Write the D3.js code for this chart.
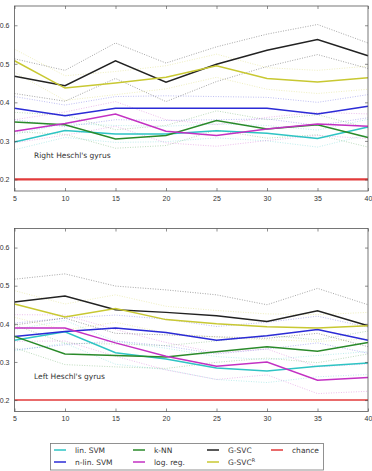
<!DOCTYPE html>
<html>
<head>
<meta charset="utf-8">
<script src="https://cdn.jsdelivr.net/npm/d3@7"></script>
<style>
  body { margin: 0; background: #fff; }
  svg { display: block; font-family: "DejaVu Sans", sans-serif; }
</style>
</head>
<body>
<svg id="chart" width="372" height="471"></svg>
<script>
// x positions (number of features)
const xValues = [5, 10, 15, 20, 25, 30, 35, 40];
const xTicks = [5, 10, 15, 20, 25, 30, 35, 40];
const yTicks = [0.2, 0.3, 0.4, 0.5, 0.6];

// series names, legend order
const seriesNames = ["lin. SVM", "n-lin. SVM", "k-NN", "log. reg.", "G-SVC", "G-SVC^R", "chance"];

// Right Heschl's gyrus: mean accuracy
const rightLinSVM  = [0.297, 0.327, 0.318, 0.318, 0.326, 0.320, 0.306, 0.336];
const rightNlinSVM = [0.385, 0.365, 0.385, 0.385, 0.385, 0.385, 0.370, 0.390];
const rightKNN     = [0.349, 0.342, 0.305, 0.314, 0.353, 0.331, 0.342, 0.309];
const rightLogReg  = [0.325, 0.345, 0.370, 0.325, 0.314, 0.331, 0.344, 0.338];
const rightGSVC    = [0.468, 0.443, 0.508, 0.452, 0.499, 0.535, 0.563, 0.521];
const rightGSVCR   = [0.508, 0.437, 0.450, 0.465, 0.495, 0.462, 0.453, 0.464];
// Right Heschl's gyrus: spread (dotted bands)
const rightLinSVMStd  = [0.020, 0.018, 0.022, 0.020, 0.018, 0.020, 0.022, 0.020];
const rightNlinSVMStd = [0.030, 0.028, 0.030, 0.032, 0.030, 0.028, 0.030, 0.030];
const rightKNNStd     = [0.025, 0.025, 0.024, 0.026, 0.025, 0.024, 0.026, 0.025];
const rightLogRegStd  = [0.030, 0.030, 0.032, 0.030, 0.028, 0.030, 0.030, 0.032];
const rightGSVCStd    = [0.045, 0.040, 0.046, 0.050, 0.045, 0.042, 0.039, 0.033];
const rightGSVCRStd   = [0.030, 0.032, 0.030, 0.030, 0.030, 0.028, 0.030, 0.030];

// Left Heschl's gyrus: mean accuracy
const leftLinSVM  = [0.357, 0.379, 0.324, 0.308, 0.284, 0.276, 0.289, 0.297];
const leftNlinSVM = [0.367, 0.380, 0.389, 0.377, 0.357, 0.369, 0.385, 0.357];
const leftKNN     = [0.367, 0.321, 0.317, 0.313, 0.327, 0.340, 0.328, 0.351];
const leftLogReg  = [0.389, 0.389, 0.350, 0.315, 0.289, 0.300, 0.252, 0.259];
const leftGSVC    = [0.457, 0.473, 0.437, 0.430, 0.421, 0.406, 0.434, 0.395];
const leftGSVCR   = [0.452, 0.418, 0.440, 0.411, 0.400, 0.392, 0.389, 0.395];
// Left Heschl's gyrus: spread (dotted bands)
const leftLinSVMStd  = [0.028, 0.030, 0.030, 0.028, 0.030, 0.030, 0.028, 0.030];
const leftNlinSVMStd = [0.035, 0.035, 0.034, 0.035, 0.036, 0.035, 0.035, 0.034];
const leftKNNStd     = [0.030, 0.028, 0.030, 0.030, 0.028, 0.030, 0.030, 0.030];
const leftLogRegStd  = [0.035, 0.034, 0.035, 0.036, 0.035, 0.034, 0.035, 0.036];
const leftGSVCStd    = [0.060, 0.058, 0.062, 0.059, 0.055, 0.044, 0.059, 0.055];
const leftGSVCRStd   = [0.035, 0.034, 0.036, 0.035, 0.035, 0.034, 0.035, 0.035];

const chanceLevel = 0.2;

const colors = {
  "lin. SVM": "#2ec4c4",
  "n-lin. SVM": "#2b2bd6",
  "k-NN": "#2a8a2a",
  "log. reg.": "#c331c3",
  "G-SVC": "#222222",
  "G-SVC^R": "#c8c832",
  "chance": "#e23a3a"
};

const panels = [
  {
    label: "Right Heschl's gyrus", top: 6, bottom: 191, chanceWidth: 2.2,
    means: [rightLinSVM, rightNlinSVM, rightKNN, rightLogReg, rightGSVC, rightGSVCR],
    stds: [rightLinSVMStd, rightNlinSVMStd, rightKNNStd, rightLogRegStd, rightGSVCStd, rightGSVCRStd]
  },
  {
    label: "Left Heschl's gyrus", top: 228.5, bottom: 411.5, chanceWidth: 1.6,
    means: [leftLinSVM, leftNlinSVM, leftKNN, leftLogReg, leftGSVC, leftGSVCR],
    stds: [leftLinSVMStd, leftNlinSVMStd, leftKNNStd, leftLogRegStd, leftGSVCStd, leftGSVCRStd]
  }
];

const svg = d3.select("#chart");
const xScale = d3.scaleLinear().domain([5, 40]).range([14.5, 368]);

panels.forEach((p) => {
  const yScale = d3.scaleLinear().domain([0.17, 0.65]).range([p.bottom, p.top]);
  const g = svg.append("g");

  const line = d3.line()
    .x((d, i) => xScale(xValues[i]))
    .y((d) => yScale(d));

  // dotted spread bands first, then solid means
  p.means.forEach((m, k) => {
    const name = seriesNames[k];
    const s = p.stds[k];
    [1, -1].forEach((sign) => {
      g.append("path")
        .attr("d", line(m.map((v, i) => v + sign * s[i])))
        .attr("fill", "none")
        .attr("stroke", colors[name])
        .attr("stroke-opacity", name === "G-SVC" ? 0.45 : 0.35)
        .attr("stroke-width", 0.9)
        .attr("stroke-dasharray", "1,1.5");
    });
  });

  p.means.forEach((m, k) => {
    g.append("path")
      .attr("d", line(m))
      .attr("fill", "none")
      .attr("stroke", colors[seriesNames[k]])
      .attr("stroke-width", 1.5);
  });

  // chance level
  g.append("path")
    .attr("d", line(xValues.map(() => chanceLevel)))
    .attr("fill", "none")
    .attr("stroke", colors["chance"])
    .attr("stroke-width", p.chanceWidth);

  // axes: ticks pointing inward, on all four sides
  const tickStyle = (sel) => {
    sel.select(".domain").remove();
    sel.selectAll("line").attr("stroke", "#444").attr("stroke-width", 0.6);
    sel.selectAll("text").attr("fill", "#333").style("font-size", "7px");
  };

  g.append("g")
    .attr("transform", `translate(0,${p.bottom})`)
    .call(d3.axisBottom(xScale).tickValues(xTicks).tickSizeInner(-3).tickSizeOuter(0).tickPadding(5))
    .call(tickStyle);
  g.append("g")
    .attr("transform", `translate(0,${p.top})`)
    .call(d3.axisTop(xScale).tickValues(xTicks).tickSizeInner(-3).tickSizeOuter(0).tickFormat(""))
    .call(tickStyle);
  g.append("g")
    .attr("transform", `translate(${xScale.range()[0]},0)`)
    .call(d3.axisLeft(yScale).tickValues(yTicks).tickSizeInner(-3).tickSizeOuter(0).tickPadding(5).tickFormat(d3.format(".1f")))
    .call(tickStyle);
  g.append("g")
    .attr("transform", `translate(${xScale.range()[1]},0)`)
    .call(d3.axisRight(yScale).tickValues(yTicks).tickSizeInner(-3).tickSizeOuter(0).tickFormat(""))
    .call(tickStyle);

  // frame
  g.append("rect")
    .attr("x", xScale.range()[0])
    .attr("y", p.top)
    .attr("width", xScale.range()[1] - xScale.range()[0])
    .attr("height", p.bottom - p.top)
    .attr("fill", "none")
    .attr("stroke", "#555")
    .attr("stroke-width", 0.8);

  // panel label
  g.append("text")
    .attr("x", 34)
    .attr("y", yScale(0.255))
    .attr("fill", "#333")
    .style("font-size", "7.5px")
    .text(p.label);
});

// legend
const legend = svg.append("g");
legend.append("rect")
  .attr("x", 50.5).attr("y", 443.5)
  .attr("width", 273).attr("height", 26.5)
  .attr("fill", "#fff")
  .attr("stroke", "#777")
  .attr("stroke-width", 0.8);

const legendCols = [54, 133, 207, 271];
const legendRows = [450, 462];
seriesNames.forEach((name, i) => {
  const col = Math.floor(i / 2);
  const row = i % 2;
  const x = legendCols[col];
  const y = legendRows[row];
  legend.append("line")
    .attr("x1", x).attr("x2", x + 12)
    .attr("y1", y).attr("y2", y)
    .attr("stroke", colors[name])
    .attr("stroke-width", 1.5);
  const t = legend.append("text")
    .attr("x", x + 21)
    .attr("y", y + 2.7)
    .attr("fill", "#333")
    .style("font-size", "7.5px");
  if (name === "G-SVC^R") {
    t.append("tspan").text("G-SVC");
    t.append("tspan").attr("dy", -3).style("font-size", "5px").text("R");
  } else {
    t.text(name);
  }
});
</script>
</body>
</html>
